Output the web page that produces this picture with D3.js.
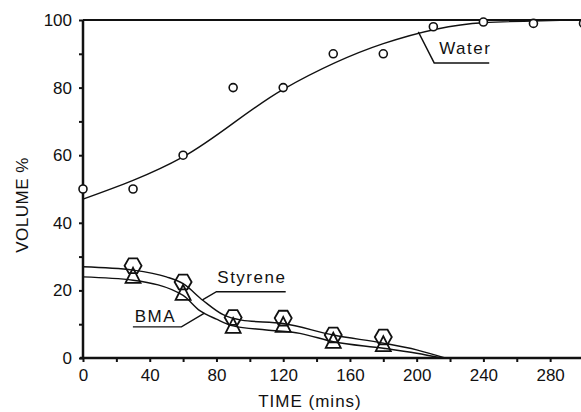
<!DOCTYPE html>
<html>
<head>
<meta charset="utf-8">
<script src="https://cdn.jsdelivr.net/npm/d3@7"></script>
<style>
  body { margin: 0; background: #fff; }
  svg { display: block; }
  text { font-family: "Liberation Sans", Arial, sans-serif; fill: #111; }
</style>
</head>
<body>
<div id="chart"></div>
<script>
// measured points
const waterTime = [0, 30, 60, 90, 120, 150, 180, 210, 240, 270, 300];
const waterVol = [50, 50, 60, 80, 80, 90, 90, 98, 99.4, 99, 99];
const sampleTime = [30, 60, 90, 120, 150, 180];
const styreneVol = [27.3, 22.5, 12, 11.8, 6.8, 6.2];
const bmaVol = [24, 19, 9.2, 9.5, 4.8, 3.8];

// fitted curves
const waterFitTime = [0, 60, 120, 180, 240, 300];
const waterFitVol = [47, 59.5, 79.5, 93, 99.2, 100];
const styreneFitTime = [0, 30, 50, 60, 72, 84, 95, 120, 150, 180, 200, 217];
const styreneFitVol = [27, 26, 24, 22, 17, 12.8, 11.2, 10.2, 6.8, 4.4, 2.4, 0];
const bmaFitTime = [0, 30, 60, 70, 80, 90, 110, 130, 150, 180, 200, 215];
const bmaFitVol = [24, 23, 18.5, 14, 11.5, 9.5, 8.3, 7.3, 4.8, 2.9, 1.4, 0];

const xTicks = d3.range(0, 301, 20);
const yTicks = d3.range(0, 101, 10);

const width = 581, height = 412;
const margin = {left: 83, top: 20, bottom: 54};

const svg = d3.select("#chart").append("svg")
    .attr("width", width)
    .attr("height", height);

const x = d3.scaleLinear().domain([0, 300]).range([margin.left, 583.5]);
const y = d3.scaleLinear().domain([0, 100]).range([height - margin.bottom, margin.top]);

// frame top line
svg.append("line")
    .attr("x1", x(0)).attr("x2", width)
    .attr("y1", y(100)).attr("y2", y(100))
    .attr("stroke", "#111").attr("stroke-width", 2);

let yAxis = svg.append("g")
    .attr("transform", "translate(" + x(0) + ",0)")
    .call(d3.axisLeft(y).tickValues(yTicks).tickSize(4).tickPadding(7)
        .tickFormat(d => d % 20 === 0 ? d : ""));

let xAxis = svg.append("g")
    .attr("transform", "translate(0," + y(0) + ")")
    .call(d3.axisBottom(x).tickValues(xTicks).tickSize(4).tickPadding(7)
        .tickFormat(d => d % 40 === 0 ? d : ""));

[yAxis, xAxis].forEach(a => {
  a.select(".domain").attr("stroke", "#111").attr("stroke-width", 2.5);
  a.selectAll(".tick line").attr("stroke", "#111").attr("stroke-width", 2);
  a.selectAll("text").attr("font-size", "17px").attr("fill", "#111")
    .style("font-family", "Liberation Sans, Arial, sans-serif");
});
xAxis.select(".domain").attr("d", "M" + (x(0) - 3) + ",0H" + width);
yAxis.select(".domain").attr("d", "M0," + (y(0) + 1) + "V" + y(100));

// axis titles
svg.append("text")
    .attr("x", 310).attr("y", 407)
    .attr("text-anchor", "middle")
    .attr("font-size", "17px")
    .attr("letter-spacing", "1px")
    .text("TIME (mins)");

svg.append("text")
    .attr("transform", "translate(28,205) rotate(-90)")
    .attr("text-anchor", "middle")
    .attr("font-size", "17px")
    .attr("letter-spacing", "0.5px")
    .text("VOLUME %");

// fitted curves
const line = d3.line()
    .x(d => x(d[0]))
    .y(d => y(d[1]))
    .curve(d3.curveMonotoneX);

const fits = [
  [waterFitTime, waterFitVol],
  [styreneFitTime, styreneFitVol],
  [bmaFitTime, bmaFitVol]
];
fits.forEach(f => {
  svg.append("path")
      .datum(d3.zip(f[0], f[1]))
      .attr("d", line)
      .attr("fill", "none")
      .attr("stroke", "#111")
      .attr("stroke-width", 1.4);
});

// markers
svg.append("g").selectAll("circle")
    .data(d3.zip(waterTime, waterVol))
  .enter().append("circle")
    .attr("cx", d => x(d[0]))
    .attr("cy", d => y(d[1]))
    .attr("r", 4)
    .attr("fill", "#fff")
    .attr("stroke", "#111")
    .attr("stroke-width", 1.6);

const hex = d3.range(6).map(i => {
  let a = Math.PI / 3 * i;
  return [8.5 * Math.cos(a), 8.5 * Math.sin(a)];
});
svg.append("g").selectAll("path")
    .data(d3.zip(sampleTime, styreneVol))
  .enter().append("path")
    .attr("transform", d => "translate(" + x(d[0]) + "," + y(d[1]) + ")")
    .attr("d", "M" + hex.join("L") + "Z")
    .attr("fill", "none")
    .attr("stroke", "#111")
    .attr("stroke-width", 1.8);

svg.append("g").selectAll("path")
    .data(d3.zip(sampleTime, bmaVol))
  .enter().append("path")
    .attr("transform", d => "translate(" + x(d[0]) + "," + y(d[1]) + ")")
    .attr("d", "M0,-9L7.5,6L-7.5,6Z")
    .attr("fill", "none")
    .attr("stroke", "#111")
    .attr("stroke-width", 1.8);

// labels with leader lines
function label(txt, tx, ty, path) {
  svg.append("path")
      .attr("d", "M" + path.map(p => [x(p[0]), y(p[1])]).join("L"))
      .attr("fill", "none")
      .attr("stroke", "#111")
      .attr("stroke-width", 1.4);
  svg.append("text")
      .attr("x", x(tx)).attr("y", y(ty))
      .attr("font-size", "17px")
      .attr("letter-spacing", "1.5px")
      .text(txt);
}
label("Water", 213.5, 89.9, [[201, 96.5], [210.5, 87.3], [243.5, 87.3]]);
label("Styrene", 80.5, 22.2, [[71.6, 17.2], [80, 19.6], [121.5, 19.6]]);
label("BMA", 31, 10.6, [[29.9, 9.2], [59, 9.2], [72.8, 13.3]]);
</script>
</body>
</html>
